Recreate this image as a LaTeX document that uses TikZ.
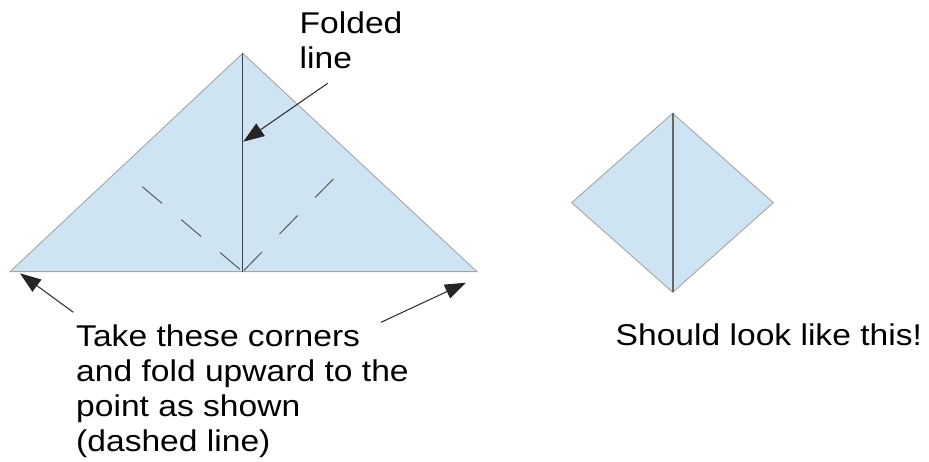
\documentclass[tikz,border=0pt]{standalone}
\usepackage{fontspec}
\setmainfont[FakeStretch=1.12]{Liberation Sans}
\usetikzlibrary{arrows.meta}

\definecolor{paperblue}{RGB}{207,228,242}
\definecolor{edgegray}{RGB}{165,165,165}

\begin{document}
\begin{tikzpicture}[x=1pt,y=-1pt,
			paper/.style={draw=edgegray,fill=paperblue,line width=0.9pt,line join=miter},
			foldline/.style={draw=black!75,line width=1.3pt},
			crease/.style={draw=black!65,line width=1pt,dash pattern=on 26pt off 25pt},
			pointer/.style={draw=black!85,line width=1pt,-{Triangle[length=21pt,width=15pt]}},
			label/.style={anchor=base west,inner sep=0pt,align=left,font=\fontsize{30}{35}\selectfont}]
			\useasboundingbox (0,0) rectangle (929,462);
			% big triangle
			\coordinate (tl) at (10,271.7);
			\coordinate (tr) at (477,271.7);
			\coordinate (apex) at (242.7,53.3);
			\coordinate (mid) at (242.7,271.7);
			\coordinate (dl) at (142.3,186.7);
			\coordinate (dr) at (333.3,179);
			\draw[paper] (tl) -- (apex) -- (tr) -- cycle;
			\draw[foldline] (apex) -- (mid);
			\draw[crease] (dl) -- (mid);
			\draw[crease] (dr) -- (mid);
			% finished shape
			\coordinate (dtop) at (672.7,113.3);
			\coordinate (dleft) at (571.7,202.7);
			\coordinate (dright) at (773.3,202.7);
			\coordinate (dbot) at (672.7,292.3);
			\draw[paper] (dtop) -- (dright) -- (dbot) -- (dleft) -- cycle;
			\draw[foldline,draw=black!60,line width=1.8pt] (dtop) -- (dbot);
			% labels (base = last line)
			\node[label] (folded) at (299.5,68.3) {Folded\\line};
			\node[label] (take) at (76,451.7) {Take these corners\\and fold upward to the\\point as shown\\(dashed line)};
			\node[label] (should) at (615.5,345.7) {Should look like this!};
			% pointers
			\coordinate (foldstart) at (327.7,83.3);
			\coordinate (foldtip) at (243.3,141.7);
			\coordinate (lstart) at (73.3,312.3);
			\coordinate (ltip) at (20,273.3);
			\coordinate (rstart) at (381,322.3);
			\coordinate (rtip) at (466,282.7);
			\draw[pointer] (foldstart) -- (foldtip);
			\draw[pointer] (lstart) -- (ltip);
			\draw[pointer] (rstart) -- (rtip);
		\end{tikzpicture}
\end{document}
